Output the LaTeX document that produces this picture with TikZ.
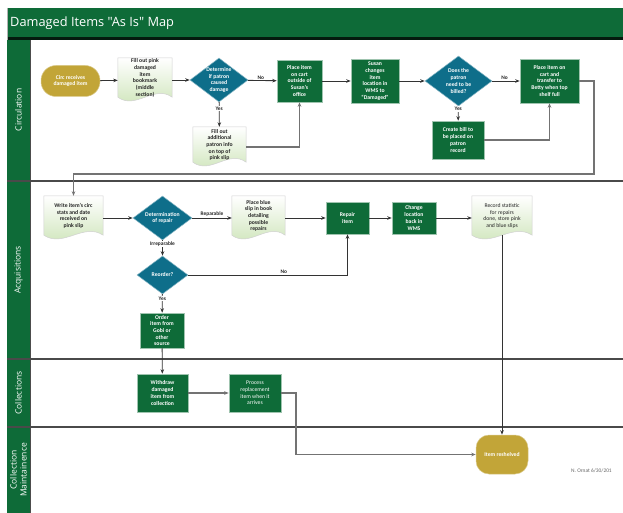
\documentclass[tikz,border=0pt]{standalone}
\usepackage{fontspec}
\setmainfont{Carlito}
\newfontfamily\osans{Open Sans}
\usetikzlibrary{arrows.meta,calc,shapes.geometric,backgrounds}
\definecolor{dgreen}{HTML}{0E6B38}
\definecolor{dteal}{HTML}{0E6E8A}
\definecolor{dgold}{HTML}{C2A538}
\definecolor{docgreen}{HTML}{CBE3B5}
\definecolor{laneline}{HTML}{4A4A4A}
\newcommand\docshape[1]{%
  \begin{scope}[on background layer]
  \path[top color=white, bottom color=docgreen, draw=black!18, line width=0.5]
    (#1.north west) -- (#1.north east) -- ($(#1.south east)+(0,-5)$)
    .. controls ($(#1.south east)!0.33!(#1.south west)+(0,-18)$) and ($(#1.south east)!0.67!(#1.south west)+(0,8)$) .. ($(#1.south west)+(0,-5)$) -- cycle;
  \end{scope}}
\begin{document}
\begin{tikzpicture}[x=1pt,y=-1pt,
  every node/.style={align=center, inner sep=1pt, font=\fontsize{5.7}{6.7}\selectfont\bfseries},
  sz/.style 2 args={minimum width=#1 pt, minimum height=#2 pt},
  gbox/.style={rectangle, fill=dgreen, draw=dgreen!40!white, line width=0.5, text=white},
  term/.style={rectangle, rounded corners=#1 pt, fill=dgold, draw=dgold!60!white, line width=0.5, text=white},
  dia/.style={diamond, fill=dteal, draw=dteal!50!white, line width=0.5, inner sep=0pt},
  dlbl/.style={text=white, inner sep=0pt},
  docn/.style={rectangle, inner sep=0pt},
  doclbl/.style={text=black!85, inner sep=0pt, yshift=2pt},
  conn/.style={draw=black!80, line width=0.85, -{Stealth[length=4.5pt,width=3.5pt]}},
  conng/.style={draw=black!55, line width=1.1, -{Stealth[length=4.5pt,width=3.5pt]}},
  lbl/.style={font=\fontsize{5.4}{6}\selectfont\bfseries, text=black!85, inner sep=0.8pt},
  lane/.style={text=white, rotate=90, font=\osans\fontsize{8.5}{10}\selectfont}
]
\useasboundingbox (0,0) rectangle (623,513);
\begin{scope}[on background layer]
  \fill[white] (0,0) rectangle (623,513);
\end{scope}

% frame
\fill[dgreen] (7,8) rectangle (623,37.5);
\fill[black!75!dgreen] (7,37.5) rectangle (623,40);
\node[anchor=west, text=white, font=\osans\fontsize{12.8}{15}\selectfont, inner sep=0pt] (title) at (10,23) {Damaged Items "As Is" Map};
\draw[black!30, line width=0.5] (7,8) -- (7,513);
\fill[dgreen] (7,40) rectangle (30,513);
\draw[black!70, line width=0.8] (30,40) -- (30,513);
\draw[laneline, line width=1.2] (7,181) -- (623,181);
\draw[laneline, line width=1.2] (7,359) -- (623,359);
\draw[laneline, line width=1.2] (7,427) -- (623,427);
\node[lane] (l1) at (18.5,110) {Circulation};
\node[lane] (l2) at (18.5,270) {Acquisitions};
\node[lane] (l3) at (18.5,393) {Collections};
\node[lane] (l4) at (18.5,470) {Collection\\Maintainence};

% Circulation
\node[term=15, sz={59}{31}] (circ) at (70.5,81) {Circ receives\\damaged item};
\node[docn, sz={54}{44}, label={[doclbl]center:{Fill out pink\\damaged\\item\\bookmark\\(middle\\section)}}] (fillpink) at (145,80) {};
\docshape{fillpink}
\node[dia, sz={58}{44}, label={[dlbl]center:{Determine\\if patron\\caused\\damage}}] (det) at (219,80) {};
\node[gbox, sz={45}{42}] (placecart) at (299.5,81) {Place item\\on cart\\outside of\\Susan's\\office};
\node[gbox, sz={48}{44}] (susan) at (375,81) {Susan\\changes\\item\\location in\\WMS to\\“Damaged”};
\node[dia, sz={67}{50}, label={[dlbl]center:{Does the\\patron\\need to be\\billed?}}] (bill) at (458.5,81) {};
\node[gbox, sz={59}{44}] (betty) at (549.5,81) {Place item on\\cart and\\transfer to\\Betty when top\\shelf full};
\node[docn, sz={53}{40}, label={[doclbl]center:{Fill out\\additional\\patron info\\on top of\\pink slip}}] (filladd) at (219.5,147) {};
\docshape{filladd}
\node[gbox, sz={52}{38}] (createbill) at (458,140) {Create bill to\\be placed on\\patron\\record};

% Acquisitions
\node[docn, sz={59}{44}, label={[doclbl]center:{Write item's circ\\stats and date\\received on\\pink slip}}] (write) at (73.5,218) {};
\docshape{write}
\node[dia, sz={59}{44}, label={[dlbl]center:{Determination\\of repair}}] (detrep) at (162.5,218) {};
\node[docn, sz={53}{44}, label={[doclbl]center:{Place blue\\slip in book\\detailing\\possible\\repairs}}] (placeblue) at (258.5,218) {};
\docshape{placeblue}
\node[gbox, sz={43}{32}] (repair) at (347.5,218) {Repair\\item};
\node[gbox, sz={44}{32}] (change) at (414,218) {Change\\location\\back in\\WMS};
\node[docn, sz={60}{44}, label={[doclbl, font=\fontsize{5.7}{6.7}\selectfont]center:{Record statistic\\for repairs\\done, store pink\\and blue slips}}] (record) at (502,218) {};
\docshape{record}
\node[dia, sz={51}{38}, label={[dlbl]center:{Reorder?}}] (reorder) at (162.5,275) {};
\node[gbox, sz={44}{35}] (order) at (162,330.5) {Order\\item from\\Gobi or\\other\\source};

% Collections
\node[gbox, sz={51}{38}] (withdraw) at (162.5,393) {Withdraw\\damaged\\item from\\collection};
\node[gbox, sz={52}{38}, font=\fontsize{5.7}{6.7}\selectfont] (process) at (255,393) {Process\\replacement\\item when it\\arrives};

% Maintenance
\node[term=13, sz={52}{39}] (reshelved) at (502,454.5) {Item reshelved};
\node[anchor=west, text=black!60, font=\fontsize{5.4}{6}\selectfont, inner sep=0pt] (sig) at (571,471) {N. Ornat 6/30/201};

% connectors
\coordinate (r1) at (594,174);
\coordinate (r2) at (296,454.5);
\draw[conn] (circ) -- (fillpink);
\draw[conn] (fillpink) -- (det);
\draw[conn] (det) -- (placecart) node[lbl, above, pos=0.45] {No};
\draw[conn] (det) -- (filladd) node[lbl, fill=white, pos=0.25] {Yes};
\draw[conng] (filladd.east) -| (placecart.south);
\draw[conn] (placecart) -- (susan);
\draw[conn] (susan) -- (bill);
\draw[conn] (bill) -- (betty) node[lbl, above, pos=0.45] {No};
\draw[conn] (bill) -- (createbill) node[lbl, fill=white, pos=0.2] {Yes};
\draw[conng] (createbill.east) -| (betty.south);
\draw[conng] (betty.east) -| (r1) -| (write.north);
\draw[conn] (write.east) -- (detrep.west);
\draw[conn] (detrep) -- (placeblue) node[lbl, above, pos=0.5] {Reparable};
\draw[conn] (placeblue.east) -- (repair.west);
\draw[conn] (repair) -- (change);
\draw[conn] (change.east) -- (record.west);
\draw[conn] (detrep) -- (reorder) node[lbl, fill=white, pos=0.25] {Irreparable};
\draw[conn] (reorder.east) -| (repair.south) node[lbl, above, pos=0.3] {No};
\draw[conn] (reorder) -- (order) node[lbl, fill=white, pos=0.25] {Yes};
\draw[conn] (order) -- (withdraw);
\draw[conng] (withdraw) -- (process);
\draw[conng] (process.east) -| (r2) -- (reshelved.west);
\draw[conn] ($(record.south)+(0,-5)$) -- (reshelved.north);
\end{tikzpicture}
\end{document}
